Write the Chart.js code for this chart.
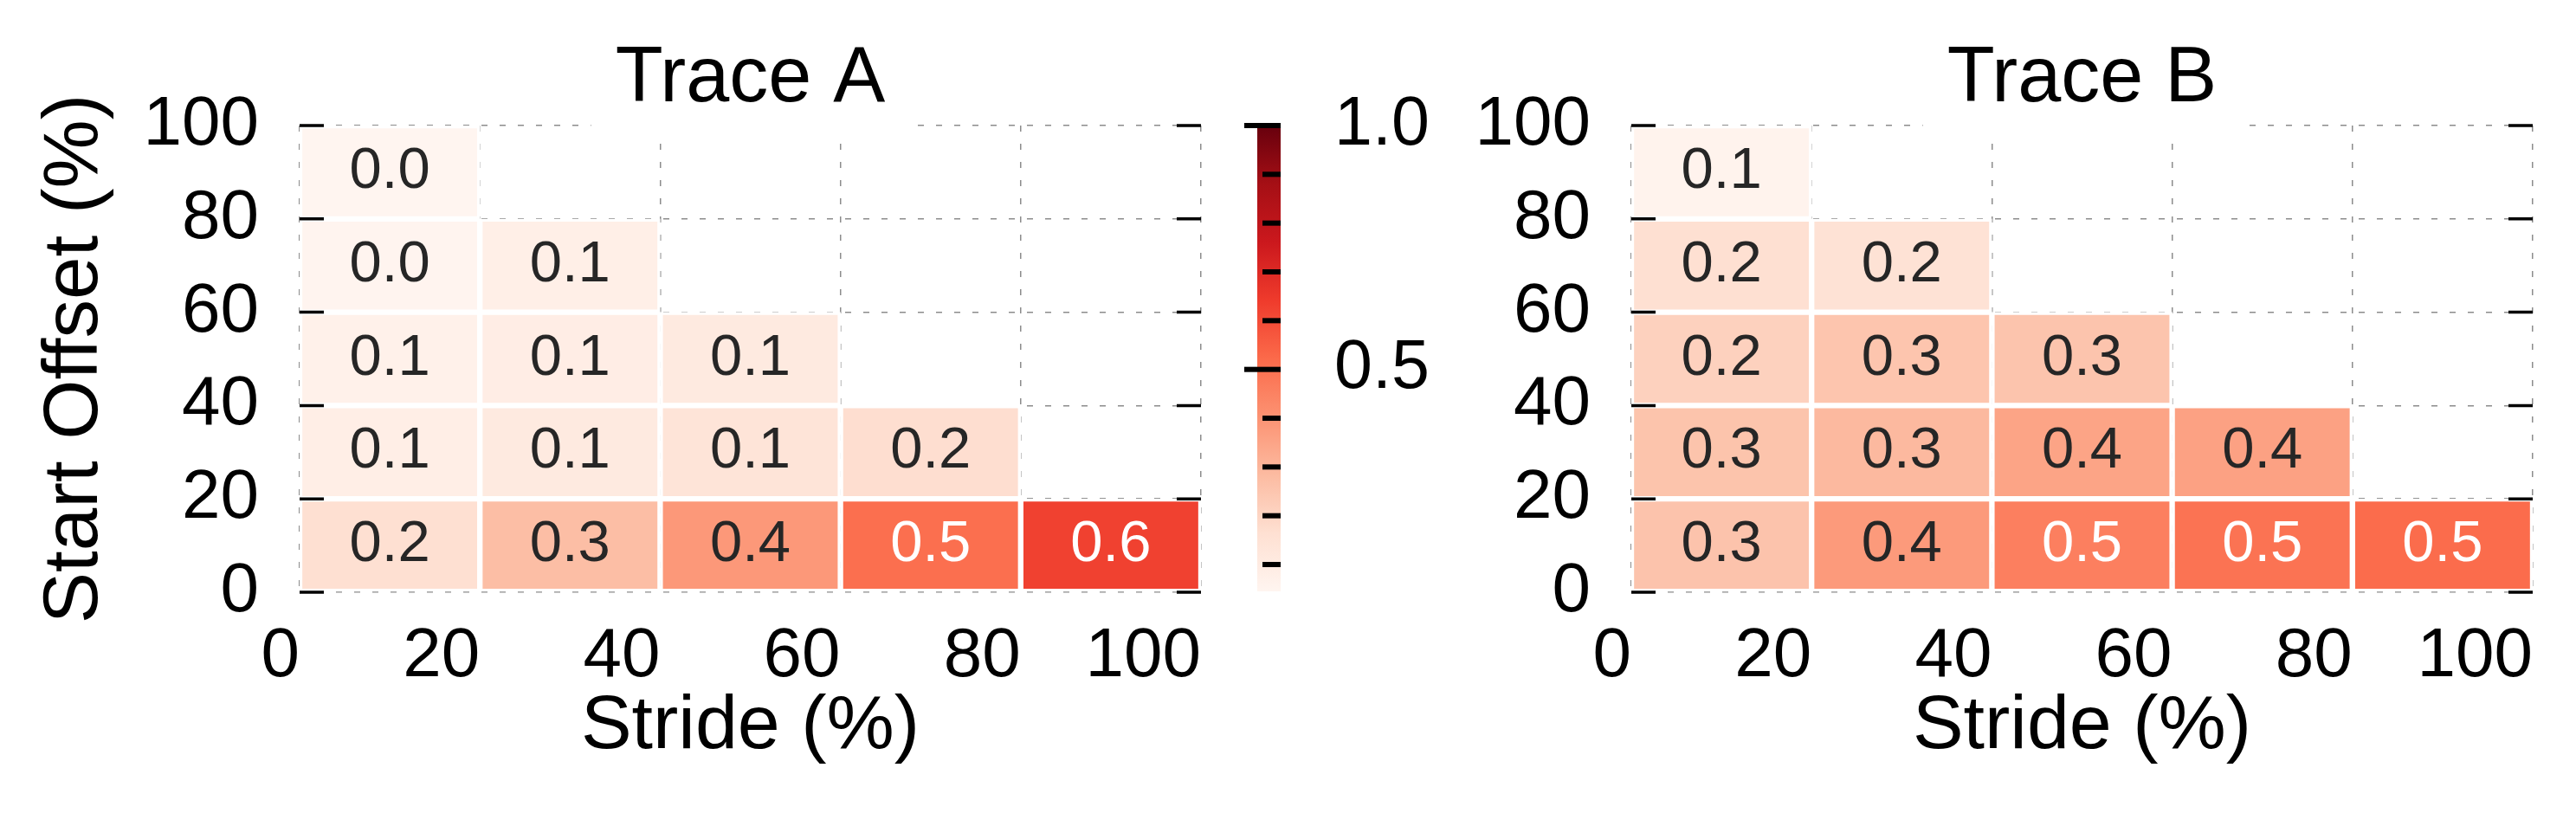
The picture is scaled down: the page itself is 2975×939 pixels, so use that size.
<!DOCTYPE html>
<html>
<head>
<meta charset="utf-8">
<script src="https://cdn.jsdelivr.net/npm/chart.js@4.4.1/dist/chart.umd.min.js"></script>
<style>
  html, body { margin: 0; padding: 0; background: #fff; }
  body { width: 2975px; height: 939px; position: relative; overflow: hidden; }
  canvas { position: absolute; top: 0; }
</style>
</head>
<body>
<canvas id="traceA" width="1430" height="939" style="left:0px"></canvas>
<canvas id="cbar" width="320" height="939" style="left:1400px"></canvas>
<canvas id="traceB" width="1475" height="939" style="left:1500px"></canvas>
<script>
const FONT = "'Liberation Sans', Arial, Helvetica, sans-serif";

// bin edges (%), also the tick labels
const strideTicks = [0, 20, 40, 60, 80, 100];
const offsetTicks = [0, 20, 40, 60, 80, 100];

// one row per start-offset bin (0-20 first), one value per stride bin
const traceA = [
    [0.164, 0.274, 0.385, 0.507, 0.627],
    [0.085, 0.107, 0.142, 0.170],
    [0.068, 0.090, 0.107],
    [0.048, 0.079],
    [0.045]
];
const traceB = [
    [0.258, 0.380, 0.460, 0.496, 0.517],
    [0.256, 0.290, 0.352, 0.360],
    [0.212, 0.252, 0.255],
    [0.165, 0.152],
    [0.055]
];

// colour bar
const cbarRange = [0.045, 1.0];
const cbarTicks = [0.5, 1.0];
const cbarMinor = [0.1, 0.2, 0.3, 0.4, 0.6, 0.7, 0.8, 0.9];

// matplotlib "Reds"
const REDS = ['#fff5f0', '#fee0d2', '#fcbba1', '#fc9272', '#fb6a4a', '#ef3b2c', '#cb181d', '#a50f15', '#67000d'];

function hexToRgb(h) {
    return [1, 3, 5].map(i => parseInt(h.slice(i, i + 2), 16));
}

function reds(t) {
    t = Math.min(1, Math.max(0, t));
    const s = t * (REDS.length - 1);
    const i = Math.min(Math.floor(s), REDS.length - 2);
    const f = s - i;
    const a = hexToRgb(REDS[i]);
    const b = hexToRgb(REDS[i + 1]);
    const c = a.map((v, k) => Math.round(v + (b[k] - v) * f));
    return `rgb(${c[0]}, ${c[1]}, ${c[2]})`;
}

function colorFor(v) {
    return reds((v - cbarRange[0]) / (cbarRange[1] - cbarRange[0]));
}

function buildCells(rows) {
    const cells = [];
    rows.forEach((row, r) => row.forEach((v, c) => {
        cells.push({
            x: (strideTicks[c] + strideTicks[c + 1]) / 2,
            y: [offsetTicks[r], offsetTicks[r + 1]],
            v: v
        });
    }));
    return cells;
}

// value text inside each cell
const cellLabels = {
    id: 'cellLabels',
    afterDatasetsDraw(chart) {
        const ctx = chart.ctx;
        const meta = chart.getDatasetMeta(0);
        const data = chart.data.datasets[0].data;
        ctx.save();
        ctx.font = `67px ${FONT}`;
        ctx.textAlign = 'center';
        ctx.textBaseline = 'alphabetic';
        meta.data.forEach((bar, i) => {
            const v = data[i].v;
            const p = bar.getProps(['x', 'y', 'base'], true);
            const cy = (p.y + p.base) / 2;
            ctx.fillStyle = v >= 0.45 ? '#ffffff' : '#262626';
            ctx.fillText(v.toFixed(1), p.x, cy + 18);
        });
        ctx.restore();
    }
};

// inward y ticks on both sides + panel title on a white box
const panelFrame = {
    id: 'panelFrame',
    afterDraw(chart, args, opts) {
        const { ctx, chartArea: a } = chart;
        const y = chart.scales.y;
        ctx.save();
        ctx.strokeStyle = '#000';
        ctx.lineWidth = 3.5;
        y.ticks.forEach(t => {
            const py = y.getPixelForValue(t.value);
            ctx.beginPath();
            ctx.moveTo(a.left, py);
            ctx.lineTo(a.left + 28, py);
            ctx.moveTo(a.right - 28, py);
            ctx.lineTo(a.right, py);
            ctx.stroke();
        });

        ctx.font = `90px ${FONT}`;
        const cx = (a.left + a.right) / 2;
        const w = ctx.measureText(opts.title).width;
        ctx.fillStyle = '#fff';
        ctx.fillRect(cx - w / 2 - 28, 0, w + 56, 162);
        ctx.fillStyle = '#000';
        ctx.textAlign = 'center';
        ctx.textBaseline = 'alphabetic';
        ctx.fillText(opts.title, cx, 117);
        ctx.restore();
    }
};

const gridOpts = { color: '#8c8c8c', lineWidth: 1.5, drawTicks: false, offset: false };
const borderOpts = { display: false, dash: [7, 14] };

function heatmap(id, rows, title, yWidth, padRight, showYTitle) {
    return new Chart(document.getElementById(id), {
        type: 'bar',
        data: {
            datasets: [{
                data: buildCells(rows),
                backgroundColor: c => (c.raw ? colorFor(c.raw.v) : 'transparent'),
                borderColor: '#ffffff',
                borderWidth: 3.5,
                borderSkipped: false,
                barPercentage: 1,
                categoryPercentage: 1
            }]
        },
        options: {
            responsive: false,
            animation: false,
            layout: { padding: { top: 145, right: padRight, bottom: 0, left: 0 } },
            plugins: {
                legend: { display: false },
                tooltip: { enabled: false },
                panelFrame: { title: title }
            },
            scales: {
                x: {
                    type: 'linear',
                    min: 0,
                    max: 100,
                    offset: false,
                    z: 1,
                    afterBuildTicks: s => { s.ticks = strideTicks.map(v => ({ value: v })); },
                    afterFit: s => { s.height = 255; },
                    grid: gridOpts,
                    border: borderOpts,
                    ticks: {
                        align: 'end',
                        padding: 35,
                        color: '#000',
                        autoSkip: false,
                        maxRotation: 0,
                        font: { family: FONT, size: 80, lineHeight: 1 }
                    },
                    title: {
                        display: true,
                        text: 'Stride (%)',
                        color: '#000',
                        font: { family: FONT, size: 88, lineHeight: 1.2 },
                        padding: { top: 0, bottom: 46 }
                    }
                },
                y: {
                    type: 'linear',
                    min: 0,
                    max: 100,
                    offset: false,
                    z: 1,
                    afterBuildTicks: s => { s.ticks = offsetTicks.map(v => ({ value: v })); },
                    afterFit: s => { s.width = yWidth; },
                    grid: gridOpts,
                    border: borderOpts,
                    ticks: {
                        padding: 47,
                        color: '#000',
                        font: { family: FONT, size: 80, lineHeight: 1 }
                    },
                    title: {
                        display: showYTitle,
                        text: 'Start Offset (%)',
                        color: '#000',
                        font: { family: FONT, size: 89, lineHeight: 1.2 },
                        padding: { top: 34, bottom: 0 }
                    }
                }
            }
        },
        plugins: [cellLabels, panelFrame]
    });
}

heatmap('traceA', traceA, 'Trace A', 346, 43, true);
heatmap('traceB', traceB, 'Trace B', 384, 50, false);

// colour bar ticks: long majors, short minors, drawn on the bar
const cbarMarks = {
    id: 'cbarMarks',
    afterDraw(chart) {
        const { ctx, chartArea: a } = chart;
        const y = chart.scales.y;
        ctx.save();
        ctx.fillStyle = '#000';
        cbarTicks.forEach(v => {
            const py = y.getPixelForValue(v);
            ctx.fillRect(a.left - 15, py - 3, a.right - a.left + 15, 6);
        });
        cbarMinor.forEach(v => {
            const py = y.getPixelForValue(v);
            ctx.fillRect(a.right - 21, py - 3, 21, 6);
        });
        ctx.restore();
    }
};

new Chart(document.getElementById('cbar'), {
    type: 'bar',
    data: {
        labels: [''],
        datasets: [{
            data: [cbarRange],
            backgroundColor: c => {
                const chart = c.chart;
                if (!chart.chartArea) return REDS[4];
                const y = chart.scales.y;
                const g = chart.ctx.createLinearGradient(0, y.getPixelForValue(cbarRange[0]), 0, y.getPixelForValue(cbarRange[1]));
                REDS.forEach((col, i) => g.addColorStop(i / (REDS.length - 1), col));
                return g;
            },
            borderWidth: 0,
            borderSkipped: false,
            barPercentage: 1,
            categoryPercentage: 1
        }]
    },
    options: {
        responsive: false,
        animation: false,
        layout: { padding: { top: 145, right: 0, bottom: 256, left: 52 } },
        plugins: { legend: { display: false }, tooltip: { enabled: false } },
        scales: {
            x: { display: false },
            y: {
                position: 'right',
                min: cbarRange[0],
                max: cbarRange[1],
                afterBuildTicks: s => { s.ticks = cbarTicks.map(v => ({ value: v })); },
                afterFit: s => { s.width = 241; },
                grid: { display: false },
                border: { display: false },
                ticks: {
                    padding: 54,
                    color: '#000',
                    font: { family: FONT, size: 79, lineHeight: 1 },
                    callback: v => Number(v).toFixed(1)
                }
            }
        }
    },
    plugins: [cbarMarks]
});
</script>
</body>
</html>
